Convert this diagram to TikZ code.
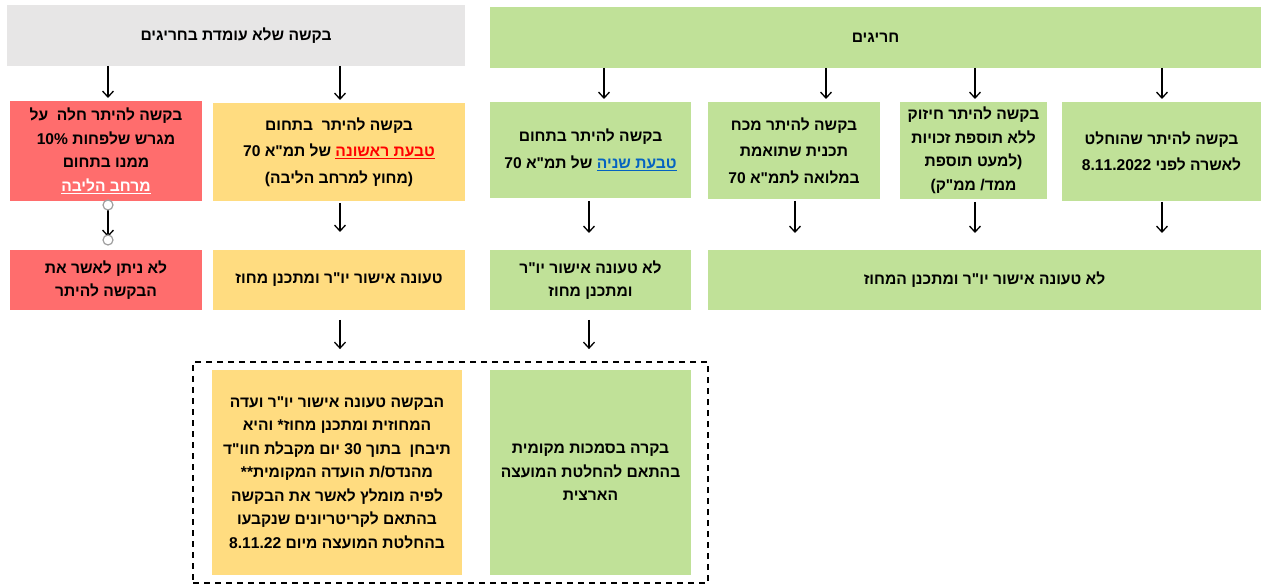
\documentclass[tikz,border=0pt]{standalone}
\usepackage{fontspec}
\usetikzlibrary{arrows.meta}
\TeXXeTstate=1
\newfontfamily\heb[Script=Hebrew,Ligatures=TeXOff]{Liberation Sans}
\newcommand{\RL}[1]{\beginR #1\endR}
\newcommand{\ulc}[2]{\hbox{\begingroup\color{#1}\underline{\beginR #2\endR}\endgroup}}
\definecolor{cgray}{HTML}{E7E6E6}
\definecolor{cgreen}{HTML}{C0E198}
\definecolor{cred}{HTML}{FF6D6D}
\definecolor{cyel}{HTML}{FFDC80}
\definecolor{cblue}{HTML}{0563C1}
\definecolor{cdot}{HTML}{A0A0A0}
\newcommand\bx[7]{\node[box,#6, minimum width={(#4-#2)*1pt}, minimum height={(#5-#3)*1pt}] (#1) at ({(#2+#4)/2},{(#3+#5)/2}) {#7};}
\tikzset{
  box/.style={inner sep=0pt, outer sep=0pt, align=center, text=black,
    font=\heb\bfseries\fontsize{15.6}{23.5}\selectfont},
  wide/.style={font=\heb\bfseries\fontsize{15.6}{26.5}\selectfont},
  grayb/.style={fill=cgray},
  greenb/.style={fill=cgreen},
  redb/.style={fill=cred},
  yelb/.style={fill=cyel},
  arr/.style={line width=1.3pt, -{Straight Barb[length=6pt,width=11pt,line width=1.3pt]}},
  hnd/.style={draw=cdot, fill=white, line width=1.2pt}
}
\begin{document}
\begin{tikzpicture}[x=1pt,y=-1pt]
\useasboundingbox (0,0) rectangle (1261,585);
% top row
\bx{gray}{7}{5}{465}{66}{grayb}{\RL{בקשה שלא עומדת בחריגים}}
\bx{green}{490}{7}{1261}{68}{greenb}{\RL{חריגים}}
% second row
\bx{red1}{10}{101}{202}{201}{redb}{\RL{בקשה להיתר חלה \ על}\\\RL{מגרש שלפחות 10\%}\\\RL{ממנו בתחום}\\\ulc{white}{מרחב הליבה}}
\bx{yel1}{213}{103}{465}{201}{yelb,wide}{\RL{בקשה להיתר \ בתחום}\\\RL{של תמ"א 70} \ulc{red}{טבעת ראשונה}\\\RL{(מחוץ למרחב הליבה)}}
\bx{gA}{490}{102}{691}{198}{greenb,wide}{\RL{בקשה להיתר בתחום}\\\RL{של תמ"א 70} \ulc{cblue}{טבעת שניה}}
\bx{gB}{708}{102}{880}{199}{greenb,wide}{\RL{בקשה להיתר מכח}\\\RL{תכנית שתואמת}\\\RL{במלואה לתמ"א 70}}
\bx{gC}{900}{102}{1047}{199}{greenb}{\RL{בקשה להיתר חיזוק}\\\RL{ללא תוספת זכויות}\\\RL{(למעט תוספת}\\\RL{ממד/ ממ"ק)}}
\bx{gD}{1062}{102}{1261}{201}{greenb,wide}{\RL{בקשה להיתר שהוחלט}\\\RL{לאשרה לפני 8.11.2022}}
% third row
\bx{red2}{10}{250}{202}{310}{redb}{\RL{לא ניתן לאשר את}\\\RL{הבקשה להיתר}}
\bx{yel2}{213}{250}{465}{310}{yelb}{\RL{טעונה אישור יו"ר ומתכנן מחוז}}
\bx{gA3}{490}{250}{691}{310}{greenb}{\RL{לא טעונה אישור יו"ר}\\\RL{ומתכנן מחוז}}
\bx{gW}{708}{250}{1261}{310}{greenb}{\RL{לא טעונה אישור יו"ר ומתכנן המחוז}}
% dashed frame and bottom row
\node[draw, dashed, line width=1.8pt, dash pattern=on 6pt off 5pt, inner sep=0pt, minimum width=515pt, minimum height=221pt] (frame) at (450.5,472.5) {};
\bx{yelB}{212}{370}{462}{575}{yelb}{\RL{הבקשה טעונה אישור יו"ר ועדה}\\\RL{המחוזית ומתכנן מחוז* והיא}\\\RL{תיבחן \ בתוך 30 יום מקבלת חוו"ד}\\\RL{מהנדס/ת הועדה המקומית**}\\\RL{לפיה מומלץ לאשר את הבקשה}\\\RL{בהתאם לקריטריונים שנקבעו}\\\RL{בהחלטת המועצה מיום 8.11.22}}
\bx{gB4}{490}{370}{691}{575}{greenb}{\RL{בקרה בסמכות מקומית}\\\RL{בהתאם להחלטת המועצה}\\\RL{הארצית}}
% arrows
\draw[arr, shorten >=3pt] (gray.south -| 108,0) -- (red1.north -| 108,0);
\draw[arr, shorten >=3pt] (gray.south -| 340,0) -- (yel1.north -| 340,0);
\draw[arr, shorten >=3pt] (green.south -| 604,0) -- (gA.north -| 604,0);
\draw[arr, shorten >=3pt] (green.south -| 826,0) -- (gB.north -| 826,0);
\draw[arr, shorten >=3pt] (green.south -| 975,0) -- (gC.north -| 975,0);
\draw[arr, shorten >=3pt] (green.south -| 1162,0) -- (gD.north -| 1162,0);
\coordinate (h1) at (108,205);
\coordinate (h2) at (108,240);
\draw[arr] (h1) -- (108,237);
\draw[hnd] (h1) circle (5pt);
\draw[hnd] (h2) circle (5pt);
\draw[arr, shorten <=2pt, shorten >=18pt] (yel1.south -| 340,0) -- (yel2.north -| 340,0);
\draw[arr, shorten <=3pt, shorten >=17pt] (gA.south -| 589,0) -- (gA3.north -| 589,0);
\draw[arr, shorten <=2pt, shorten >=17pt] (gB.south -| 795,0) -- (gW.north -| 795,0);
\draw[arr, shorten <=3pt, shorten >=17pt] (gC.south -| 975,0) -- (gW.north -| 975,0);
\draw[arr, shorten <=1pt, shorten >=17pt] (gD.south -| 1162,0) -- (gW.north -| 1162,0);
\draw[arr, shorten <=10pt, shorten >=12pt] (yel2.south -| 340,0) -- (frame.north -| 340,0);
\draw[arr, shorten <=10pt, shorten >=12pt] (gA3.south -| 589,0) -- (frame.north -| 589,0);
\end{tikzpicture}
\end{document}
